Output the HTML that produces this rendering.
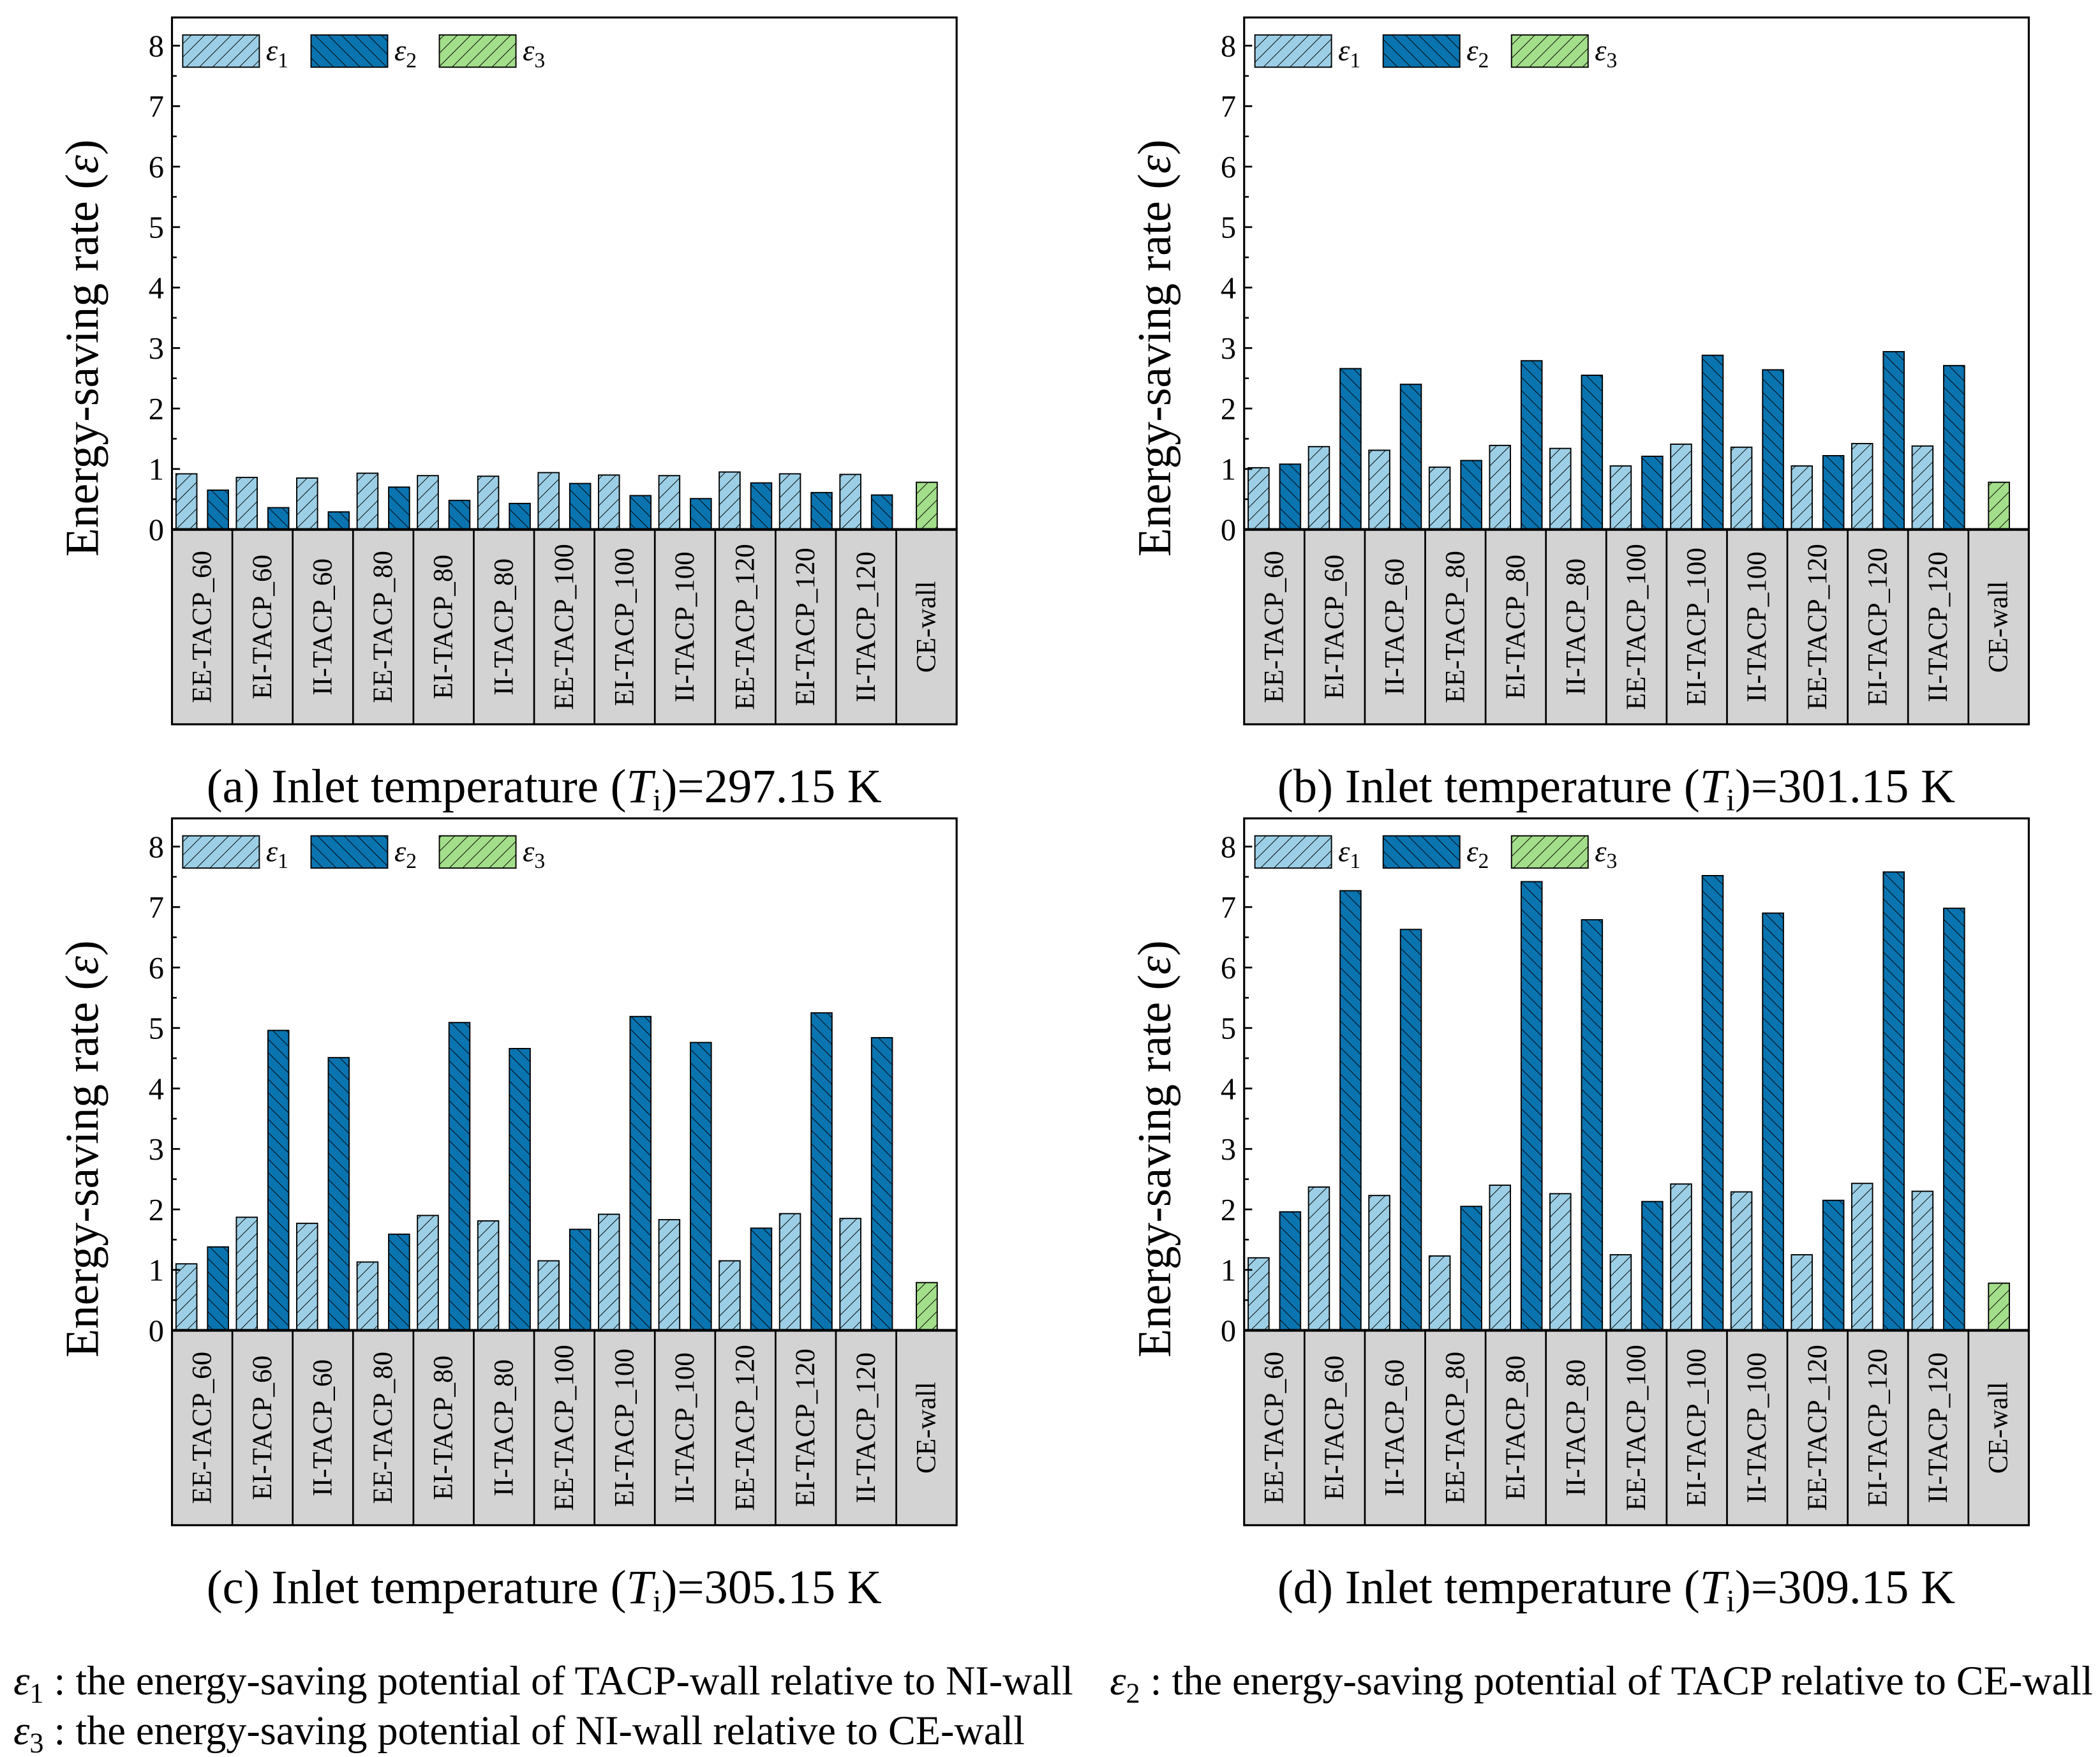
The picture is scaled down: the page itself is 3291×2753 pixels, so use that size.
<!DOCTYPE html>
<html><head><meta charset="utf-8"><style>
html,body{margin:0;padding:0;background:#fff}
svg{display:block}
svg text{font-family:"Liberation Serif","Times New Roman",serif;fill:#000}
</style></head><body>
<svg id="fig" width="3291" height="2753" viewBox="0 0 1563 1307.5" font-family="Liberation Serif, serif" xmlns="http://www.w3.org/2000/svg">
<defs>
<pattern id="hatchA" patternUnits="userSpaceOnUse" width="7" height="7" patternTransform="rotate(45)"><rect width="7" height="7" fill="#9ccfe6"/><line x1="0" y1="0" x2="0" y2="7" stroke="#000" stroke-width="0.9"/></pattern>
<pattern id="hatchB" patternUnits="userSpaceOnUse" width="7" height="7" patternTransform="rotate(-45)"><rect width="7" height="7" fill="#0a74b0"/><line x1="0" y1="0" x2="0" y2="7" stroke="#000" stroke-width="0.9"/></pattern>
<pattern id="hatchC" patternUnits="userSpaceOnUse" width="7" height="7" patternTransform="rotate(45)"><rect width="7" height="7" fill="#a3de8a"/><line x1="0" y1="0" x2="0" y2="7" stroke="#000" stroke-width="0.9"/></pattern>
</defs>
</svg>
<script>
const categories=["EE-TACP_60","EI-TACP_60","II-TACP_60","EE-TACP_80","EI-TACP_80","II-TACP_80","EE-TACP_100","EI-TACP_100","II-TACP_100","EE-TACP_120","EI-TACP_120","II-TACP_120","CE-wall"];
const yTicks=[0,1,2,3,4,5,6,7,8];
const e1a=[0.92,0.86,0.85,0.93,0.89,0.88,0.94,0.90,0.89,0.95,0.92,0.91];
const e2a=[0.65,0.36,0.29,0.70,0.48,0.43,0.76,0.56,0.51,0.77,0.61,0.57];
const e3a=0.78;
const e1b=[1.02,1.37,1.31,1.03,1.39,1.34,1.05,1.41,1.36,1.05,1.42,1.38];
const e2b=[1.08,2.66,2.40,1.14,2.79,2.55,1.21,2.88,2.64,1.22,2.94,2.71];
const e3b=0.78;
const e1c=[1.10,1.87,1.77,1.13,1.90,1.81,1.15,1.92,1.83,1.15,1.93,1.85];
const e2c=[1.38,4.96,4.51,1.59,5.09,4.66,1.67,5.19,4.76,1.69,5.25,4.84];
const e3c=0.79;
const e1d=[1.20,2.37,2.23,1.23,2.40,2.26,1.25,2.42,2.29,1.25,2.43,2.30];
const e2d=[1.96,7.27,6.63,2.05,7.42,6.79,2.13,7.52,6.90,2.15,7.58,6.98];
const e3d=0.78;
const panelTitles=["(a) Inlet temperature (","(b) Inlet temperature (","(c) Inlet temperature (","(d) Inlet temperature ("];
const panelTemps=["297.15","301.15","305.15","309.15"];

const NS="http://www.w3.org/2000/svg";
const svg=document.getElementById('fig');
function mk(tag,attrs,parent){const e=document.createElementNS(NS,tag);for(const k in attrs)e.setAttribute(k,attrs[k]);(parent||svg).appendChild(e);return e;}

function panel(idx,x0,y0,E1,E2,E3,tag){
  const W=584, zeroY=y0+381, unit=45, boxTop=y0, boxBot=y0+526;
  const g=mk('g',{});
  
  
  const ys=v=>zeroY-v*unit;
  const cw=W/categories.length;
  const xs=i=>x0+i*cw;
  const lab=mk('rect',{x:x0,y:zeroY,width:W,height:boxBot-zeroY,fill:'#d3d3d3',stroke:'none'},g);
  
  
  categories.forEach((c,i)=>{
    if(i>0){const l=mk('line',{x1:xs(i),x2:xs(i),y1:zeroY,y2:boxBot,stroke:'#000','stroke-width':1.3},g);
      
      }
    const cx=xs(i)+cw/2, cy=(zeroY+boxBot)/2;
    const t=mk('text',{x:cx,y:cy,'font-size':20.5,'text-anchor':'middle','dominant-baseline':'central',transform:`rotate(-90 ${cx} ${cy})`},g);
    t.textContent=c;
    
    
  });
  for(let i=0;i<E1.length;i++){
    const b1=mk('rect',{x:xs(i)+3,y:ys(E1[i]),width:15.5,height:E1[i]*unit,fill:'url(#hatchA)',stroke:'#000','stroke-width':0.9},g);
    
    
    const b2=mk('rect',{x:xs(i)+26.5,y:ys(E2[i]),width:15.5,height:E2[i]*unit,fill:'url(#hatchB)',stroke:'#000','stroke-width':0.9},g);
    
    
  }
  const b3=mk('rect',{x:xs(12)+cw/2-7.5,y:ys(E3),width:15.5,height:E3*unit,fill:'url(#hatchC)',stroke:'#000','stroke-width':0.9},g);
  
  
  const fr=mk('rect',{x:x0,y:boxTop,width:W,height:boxBot-boxTop,fill:'none',stroke:'#000','stroke-width':1.5},g);
  
  
  const ax=mk('line',{x1:x0,x2:x0+W,y1:zeroY,y2:zeroY,stroke:'#000','stroke-width':2},g);
  
  
  yTicks.forEach(v=>{
    mk('line',{x1:x0,x2:x0+6,y1:ys(v),y2:ys(v),stroke:'#000','stroke-width':1.3},g);
    if(v<8) mk('line',{x1:x0,x2:x0+3.5,y1:ys(v+0.5),y2:ys(v+0.5),stroke:'#000','stroke-width':1.2},g);
    const t=mk('text',{x:x0-6,y:ys(v)+8,'font-size':23,'text-anchor':'end'},g);
    t.textContent=v;
    
    
  });
  const tx=x0-55, ty=zeroY-135;
  const yt=mk('text',{x:tx,y:ty,'font-size':35,'text-anchor':'middle',transform:`rotate(-90 ${tx} ${ty})`},g);
  yt.innerHTML='Energy-saving rate (<tspan font-style="italic">ε</tspan>)';
  
  
  const legs=[['url(#hatchA)','1'],['url(#hatchB)','2'],['url(#hatchC)','3']];
  legs.forEach((L,k)=>{
    const lx=x0+8+k*95.5, ly=boxTop+13;
    const r=mk('rect',{x:lx,y:ly,width:57,height:24,fill:L[0],stroke:'#000','stroke-width':0.9},g);
    
    
    const t=mk('text',{x:lx+62,y:ly+19,'font-size':22},g);
    t.innerHTML='<tspan font-style="italic">ε</tspan><tspan font-size="16" dy="5">'+L[1]+'</tspan>';
    
    
  });
  const tt=mk('text',{x:x0+W/2-15,y:boxBot+58,'font-size':35.5,'text-anchor':'middle'},g);
  tt.innerHTML=panelTitles[idx]+'<tspan font-style="italic">T</tspan><tspan font-size="23" dy="6">i</tspan><tspan dy="-6">)=</tspan>'+panelTemps[idx]+' K';
  
  
}
panel(0,128,13,e1a,e2a,e3a,'a');
panel(1,926,13,e1b,e2b,e3b,'b');
panel(2,128,609,e1c,e2c,e3c,'c');
panel(3,926,609,e1d,e2d,e3d,'d');

const notes=[[10,1261,'1',' : the energy-saving potential of TACP-wall relative to NI-wall'],[826,1261,'2',' : the energy-saving potential of TACP relative to CE-wall'],[10,1298,'3',' : the energy-saving potential of NI-wall relative to CE-wall']];
notes.forEach(n=>{
  const t=mk('text',{x:n[0],y:n[1],'font-size':30.5});
  t.innerHTML='<tspan font-style="italic">ε</tspan><tspan font-size="21" dy="6">'+n[2]+'</tspan><tspan dy="-6">'+n[3]+'</tspan>';
  
  
});
</script>
</body></html>
